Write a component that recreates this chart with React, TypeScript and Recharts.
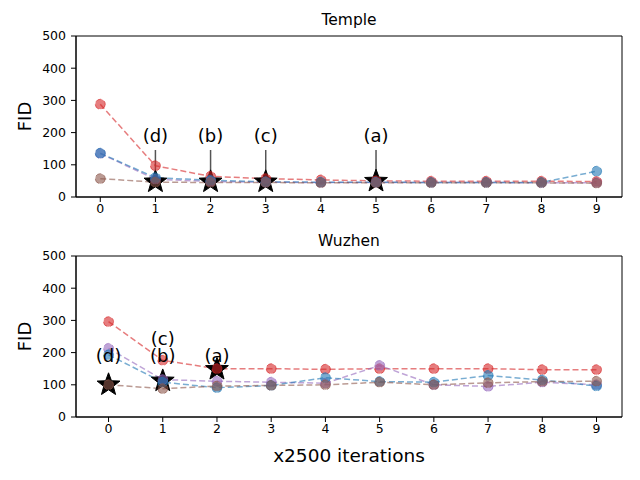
import { ComposedChart, Line, Scatter, XAxis, YAxis, ReferenceLine, ReferenceDot, ReferenceArea } from 'recharts';

const iterations = [0, 1, 2, 3, 4, 5, 6, 7, 8, 9];

const templeRed = [288, 97, 64, 57, 53, 50, 49, 49, 49, 48];
const templePurple = [135, 55, 48, 46, 45, 45, 45, 45, 44, 44];
const templeBlue = [136, 60, 52, 47, 46, 46, 45, 45, 45, 80];
const templeBrown = [57, 46, 45, 45, 44, 44, 44, 44, 44, 43];

const wuzhenRed = [296, 176, 150, 150, 148, 150, 150, 150, 147, 147];
const wuzhenPurple = [213, 116, 111, 108, 105, 160, 100, 95, 108, 100];
const wuzhenBlue = [193, 108, 91, 98, 122, 110, 108, 129, 115, 96];
const wuzhenBrown = [100, 88, 96, 98, 100, 108, 100, 106, 110, 111];

const templeStars = [
  { x: 1, y: 47, label: '(d)' },
  { x: 2, y: 47, label: '(b)' },
  { x: 3, y: 47, label: '(c)' },
  { x: 5, y: 49, label: '(a)' },
];
const wuzhenStars = [
  { x: 0, y: 100 },
  { x: 1, y: 112 },
  { x: 2, y: 148 },
];
const wuzhenNotes = [
  { x: 0, y: 192, label: '(d)' },
  { x: 1, y: 192, label: '(b)' },
  { x: 1, y: 242, label: '(c)' },
  { x: 2, y: 192, label: '(a)' },
];

const yTicks = [0, 100, 200, 300, 400, 500];
const templeDomain = [-0.44, 9.46];
const wuzhenDomain = [-0.6, 9.47];

const buildRows = (red: number[], purple: number[], blue: number[], brown: number[]) =>
  iterations.map((x, i) => ({ x, red: red[i], purple: purple[i], blue: blue[i], brown: brown[i] }));

const templeRows = buildRows(templeRed, templePurple, templeBlue, templeBrown);
const wuzhenRows = buildRows(wuzhenRed, wuzhenPurple, wuzhenBlue, wuzhenBrown);

const series = [
  { key: 'red', color: '#d62728' },
  { key: 'purple', color: '#9467bd' },
  { key: 'blue', color: '#1f77b4' },
  { key: 'brown', color: '#8c564b' },
];

const FONT = 'DejaVu Sans, sans-serif';

const Star = (props: any) => {
  const { cx, cy } = props;
  if (cx == null || cy == null) return null;
  const pts: string[] = [];
  for (let k = 0; k < 10; k++) {
    const r = k % 2 === 0 ? 12 : 5;
    const a = -Math.PI / 2 + (k * Math.PI) / 5;
    pts.push(`${cx + r * Math.cos(a)},${cy + r * Math.sin(a)}`);
  }
  return <polygon points={pts.join(' ')} fill="#000" stroke="#000" strokeWidth={1} />;
};

const Panel = ({ rows, stars, notes, arrows, domain, height, margin, xAxisHeight, xLabel }: any) => (
  <ComposedChart width={640} height={height} data={rows} margin={margin}>
    <XAxis
      dataKey="x"
      type="number"
      domain={domain}
      ticks={iterations}
      allowDataOverflow
      tickSize={5}
      height={xAxisHeight}
      tick={{ fill: '#000', fontSize: 12.5, fontFamily: FONT }}
      tickLine={{ stroke: '#000' }}
      axisLine={{ stroke: '#000' }}
      label={xLabel ? { value: xLabel, position: 'insideBottom', offset: 18, fill: '#000', fontSize: 18.5, fontFamily: FONT } : undefined}
    />
    <YAxis
      type="number"
      domain={[0, 500]}
      ticks={yTicks}
      width={76}
      tickSize={5}
      tickMargin={5}
      tick={{ fill: '#000', fontSize: 12.5, fontFamily: FONT }}
      tickLine={{ stroke: '#000' }}
      axisLine={{ stroke: '#000' }}
      label={{ value: 'FID', angle: -90, position: 'center', dx: -13, fill: '#000', fontSize: 18, fontFamily: FONT }}
    />
    <ReferenceArea x1={domain[0]} x2={domain[1]} y1={0} y2={500} fill="none" stroke="#000" strokeWidth={1} ifOverflow="visible" />
    {arrows &&
      stars.map((s: any, i: number) => (
        <ReferenceLine key={`a${i}`} segment={[{ x: s.x, y: 146 }, { x: s.x, y: 62 }]} stroke="#555" strokeWidth={1.5} />
      ))}
    <Scatter data={stars} dataKey="y" shape={<Star />} isAnimationActive={false} />
    {series.map((s) => (
      <Line
        key={s.key}
        dataKey={s.key}
        stroke={s.color}
        strokeOpacity={0.6}
        strokeWidth={1.5}
        strokeDasharray="6 3"
        dot={{ r: 5, fill: s.color, fillOpacity: 0.6, stroke: s.color, strokeOpacity: 0.6, strokeWidth: 1 }}
        activeDot={false}
        isAnimationActive={false}
      />
    ))}
    {notes.map((n: any, i: number) => (
      <ReferenceDot
        key={`n${i}`}
        x={n.x}
        y={n.y}
        r={0}
        stroke="none"
        fill="none"
        label={{ value: n.label, position: 'center', fill: '#000', fontSize: 18, fontFamily: FONT }}
      />
    ))}
  </ComposedChart>
);

const titleStyle = (top: number) => ({
  position: 'absolute' as const,
  top,
  left: 76,
  width: 546,
  textAlign: 'center' as const,
  fontFamily: FONT,
  fontSize: 15.5,
  lineHeight: '16px',
  color: '#000',
});

const templeNotes = templeStars.map((s) => ({ x: s.x, y: 192, label: s.label }));

export default function App() {
  return (
    <div style={{ position: 'absolute', left: 0, top: 0, width: 640, height: 480, background: '#fff' }}>
      <div style={titleStyle(12)}>Temple</div>
      <div style={titleStyle(233)}>Wuzhen</div>
      <div style={{ position: 'absolute', left: 0, top: 0 }}>
        <Panel
          rows={templeRows}
          stars={templeStars}
          notes={templeNotes}
          arrows
          domain={templeDomain}
          height={240}
          margin={{ top: 36, right: 18, bottom: 18, left: 0 }}
          xAxisHeight={25}
        />
      </div>
      <div style={{ position: 'absolute', left: 0, top: 240 }}>
        <Panel
          rows={wuzhenRows}
          stars={wuzhenStars}
          notes={wuzhenNotes}
          arrows={false}
          domain={wuzhenDomain}
          height={240}
          margin={{ top: 16, right: 18, bottom: 0, left: 0 }}
          xAxisHeight={63}
          xLabel="x2500 iterations"
        />
      </div>
    </div>
  );
}
